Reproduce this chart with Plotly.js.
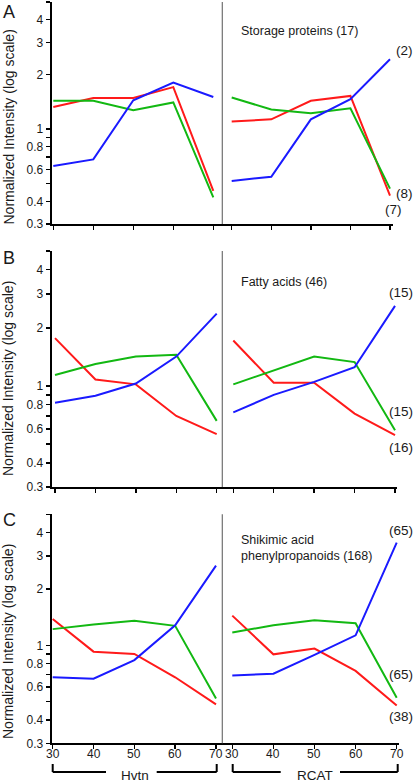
<!DOCTYPE html>
<html><head><meta charset="utf-8">
<script src="https://cdn.plot.ly/plotly-3.0.1.min.js"></script>
<style>html,body{margin:0;padding:0;background:#fff}#chart{width:415px;height:784px}</style>
</head><body><div id="chart"></div>
<script>
// ---- data ----
const ages = [30, 40, 50, 60, 70];
const yTickVals = [0.3, 0.4, 0.5, 0.6, 0.7, 0.8, 0.9, 1, 2, 3, 4, 5];
const yTickText = ['0.3', '0.4', '', '0.6', '', '0.8', '', '1', '2', '3', '4', ''];
const xTickText = ['30', '40', '50', '60', '70'];
const groups = ['Hvtn', 'RCAT'];
const panelLetters = ['A', 'B', 'C'];
const panelTitles = ['Storage proteins (17)', 'Fatty acids (46)', 'Shikimic acid<br>phenylpropanoids (168)'];

// Panel A: storage proteins
const A_hvtn_red   = [1.32, 1.48, 1.48, 1.70, 0.457];
const A_hvtn_green = [1.43, 1.43, 1.27, 1.40, 0.42];
const A_hvtn_blue  = [0.625, 0.68, 1.44, 1.80, 1.50];
const A_rcat_red   = [1.10, 1.13, 1.43, 1.52, 0.43];
const A_rcat_green = [1.49, 1.28, 1.22, 1.30, 0.47];
const A_rcat_blue  = [0.518, 0.546, 1.13, 1.46, 2.42];
const A_counts = ['(2)', '(8)', '(7)'];

// Panel B: fatty acids
const B_hvtn_red   = [1.77, 1.08, 1.02, 0.70, 0.564];
const B_hvtn_green = [1.14, 1.30, 1.42, 1.45, 0.66];
const B_hvtn_blue  = [0.82, 0.89, 1.03, 1.42, 2.37];
const B_rcat_red   = [1.72, 1.04, 1.04, 0.72, 0.557];
const B_rcat_green = [1.02, 1.20, 1.42, 1.33, 0.59];
const B_rcat_blue  = [0.73, 0.90, 1.05, 1.25, 2.60];
const B_counts = ['(15)', '(15)', '(16)'];

// Panel C: shikimic acid / phenylpropanoids
const C_hvtn_red   = [1.38, 0.925, 0.90, 0.675, 0.484];
const C_hvtn_green = [1.22, 1.29, 1.35, 1.27, 0.52];
const C_hvtn_blue  = [0.675, 0.664, 0.834, 1.28, 2.66];
const C_rcat_red   = [1.44, 0.895, 0.96, 0.73, 0.477];
const C_rcat_green = [1.17, 1.28, 1.36, 1.31, 0.525];
const C_rcat_blue  = [0.69, 0.705, 0.89, 1.13, 3.53];
const C_counts = ['(65)', '(65)', '(38)'];

// ---- layout helpers ----
const W = 415, H = 784;
const px = x => x / W;
const py = y => 1 - y / H;
const RED = '#ff1a1a', GREEN = '#12b812', BLUE = '#1a1aff';
const FONT = 'Liberation Sans, Arial, Helvetica, sans-serif';
const TXT = '#1a1a1a';

const panels = [
  {top: 2, bot: 224, lRange: [29.6, 72.25], rRange: [27.625, 70.76], rEnd: 393,
   series: [[A_hvtn_red, A_hvtn_green, A_hvtn_blue], [A_rcat_red, A_rcat_green, A_rcat_blue]],
   counts: A_counts, countPos: [[404, 51], [404, 193], [393, 210]],
   titleY: 30.7, titleCenter: 127.5, letterY: 12},
  {top: 251, bot: 487, lRange: [29.18, 71.385], rRange: [27.28, 70.49], rEnd: 397,
   series: [[B_hvtn_red, B_hvtn_green, B_hvtn_blue], [B_rcat_red, B_rcat_green, B_rcat_blue]],
   counts: B_counts, countPos: [[401, 292.7], [401, 411], [401, 447.7]],
   titleY: 282.3, titleCenter: 379, letterY: 258},
  {top: 514.3, bot: 743.3, lRange: [29.755, 71.54], rRange: [27.57, 70.56], rEnd: 399,
   series: [[C_hvtn_red, C_hvtn_green, C_hvtn_blue], [C_rcat_red, C_rcat_green, C_rcat_blue]],
   counts: C_counts, countPos: [[401, 530.7], [401, 674.3], [401, 716.7]],
   titleY: 547.5, titleCenter: 642, letterY: 520}
];
const yAxisX = 51.7, divX = 222.3;

const data = [];
const layout = {
  width: W, height: H,
  margin: {l: 0, r: 0, t: 0, b: 0},
  paper_bgcolor: '#fff', plot_bgcolor: 'rgba(0,0,0,0)',
  showlegend: false,
  font: {family: FONT, color: TXT, size: 12},
  shapes: [], annotations: []
};

panels.forEach((p, i) => {
  const yName = i === 0 ? 'y' : 'y' + (i + 1);
  const yKey = i === 0 ? 'yaxis' : 'yaxis' + (i + 1);
  const xl = 2 * i + 1, xr = 2 * i + 2;
  const xlName = xl === 1 ? 'x' : 'x' + xl;
  const xrName = 'x' + xr;
  const xlKey = xl === 1 ? 'xaxis' : 'xaxis' + xl;
  const xrKey = 'xaxis' + xr;
  const yDom = [py(p.bot), py(p.top)];

  layout[yKey] = {
    type: 'log', domain: yDom, anchor: xlName,
    range: [Math.log10(0.3), Math.log10(5)],
    tickmode: 'array', tickvals: yTickVals, ticktext: yTickText,
    ticks: 'outside', ticklen: 4, tickwidth: 1.5, tickcolor: '#000',
    showline: true, linewidth: 2, linecolor: '#000',
    showgrid: false, zeroline: false,
    tickfont: {size: 12, family: FONT, color: TXT}
  };
  const xCommon = {
    anchor: yName, tickmode: 'array', tickvals: ages, ticktext: xTickText,
    ticks: 'outside', ticklen: 4, tickwidth: 1.5, tickcolor: '#000',
    showline: true, linewidth: 2, linecolor: '#000',
    showgrid: false, zeroline: false,
    showticklabels: false
  };
  layout[xlKey] = Object.assign({}, xCommon, {domain: [px(yAxisX), px(divX)], range: p.lRange});
  layout[xrKey] = Object.assign({}, xCommon, {domain: [px(divX), px(p.rEnd)], range: p.rRange});

  const colors = [RED, GREEN, BLUE];
  [xlName, xrName].forEach((xn, g) => {
    p.series[g].forEach((vals, k) => {
      data.push({
        x: ages, y: vals, xaxis: xn, yaxis: yName,
        type: 'scatter', mode: 'lines',
        line: {color: colors[k], width: 2},
        name: groups[g], hoverinfo: 'skip'
      });
    });
    // x tick labels only on the bottom panel
    if (i === 2) {
      ages.forEach((a, k) => {
        layout.annotations.push({xref: xn, yref: 'paper', x: a, y: py(754),
          xanchor: 'center', yanchor: 'middle', showarrow: false, text: xTickText[k],
          font: {size: 12, family: FONT, color: TXT}});
      });
    }
  });

  // divider
  layout.shapes.push({type: 'line', xref: 'paper', yref: 'paper',
    x0: px(divX), x1: px(divX), y0: py(p.bot), y1: py(p.top),
    line: {color: '#707070', width: 1.2}});

  // panel letter
  layout.annotations.push({xref: 'paper', yref: 'paper', x: px(0.5), y: py(p.letterY),
    xanchor: 'left', yanchor: 'middle', showarrow: false, text: panelLetters[i],
    font: {size: 18, family: FONT, color: TXT}});
  // y title
  layout.annotations.push({xref: 'paper', yref: 'paper', x: px(8), y: py(p.titleCenter),
    xanchor: 'center', yanchor: 'middle', showarrow: false, textangle: -90,
    text: 'Normalized Intensity (log scale)', font: {size: 14, family: FONT, color: TXT}});
  // panel title
  layout.annotations.push({xref: 'paper', yref: 'paper', x: px(239), y: py(p.titleY),
    xanchor: 'left', yanchor: 'middle', align: 'left', showarrow: false,
    text: panelTitles[i], font: {size: 12.5, family: FONT, color: TXT}});
  // counts
  p.counts.forEach((c, k) => {
    layout.annotations.push({xref: 'paper', yref: 'paper', x: px(p.countPos[k][0]), y: py(p.countPos[k][1]),
      xanchor: 'center', yanchor: 'middle', showarrow: false, text: c,
      font: {size: 13.5, family: FONT, color: TXT}});
  });
});

// bottom brackets
const brY = 772, brTop = 764;
const br = [
  {x0: 52.7, g0: 106, g1: 156.7, x1: 216.7, tx: 134.8, label: groups[0]},
  {x0: 232.7, g0: 280.7, g1: 340, x1: 397.7, tx: 315, label: groups[1]}
];
br.forEach(b => {
  const L = (a, c, d, e) => layout.shapes.push({type: 'line', xref: 'paper', yref: 'paper',
    x0: px(a), x1: px(c), y0: py(d), y1: py(e), line: {color: '#000', width: 2}});
  L(b.x0, b.g0, brY, brY);
  L(b.g1, b.x1, brY, brY);
  L(b.x0, b.x0, brTop, brY);
  L(b.x1, b.x1, brTop, brY);
  layout.annotations.push({xref: 'paper', yref: 'paper', x: px(b.tx), y: 0,
    xanchor: 'center', yanchor: 'bottom', showarrow: false, text: b.label,
    borderpad: 0, font: {size: 13.5, family: FONT, color: TXT}});
});

Plotly.newPlot('chart', data, layout, {displayModeBar: false, staticPlot: true});
</script></body></html>
